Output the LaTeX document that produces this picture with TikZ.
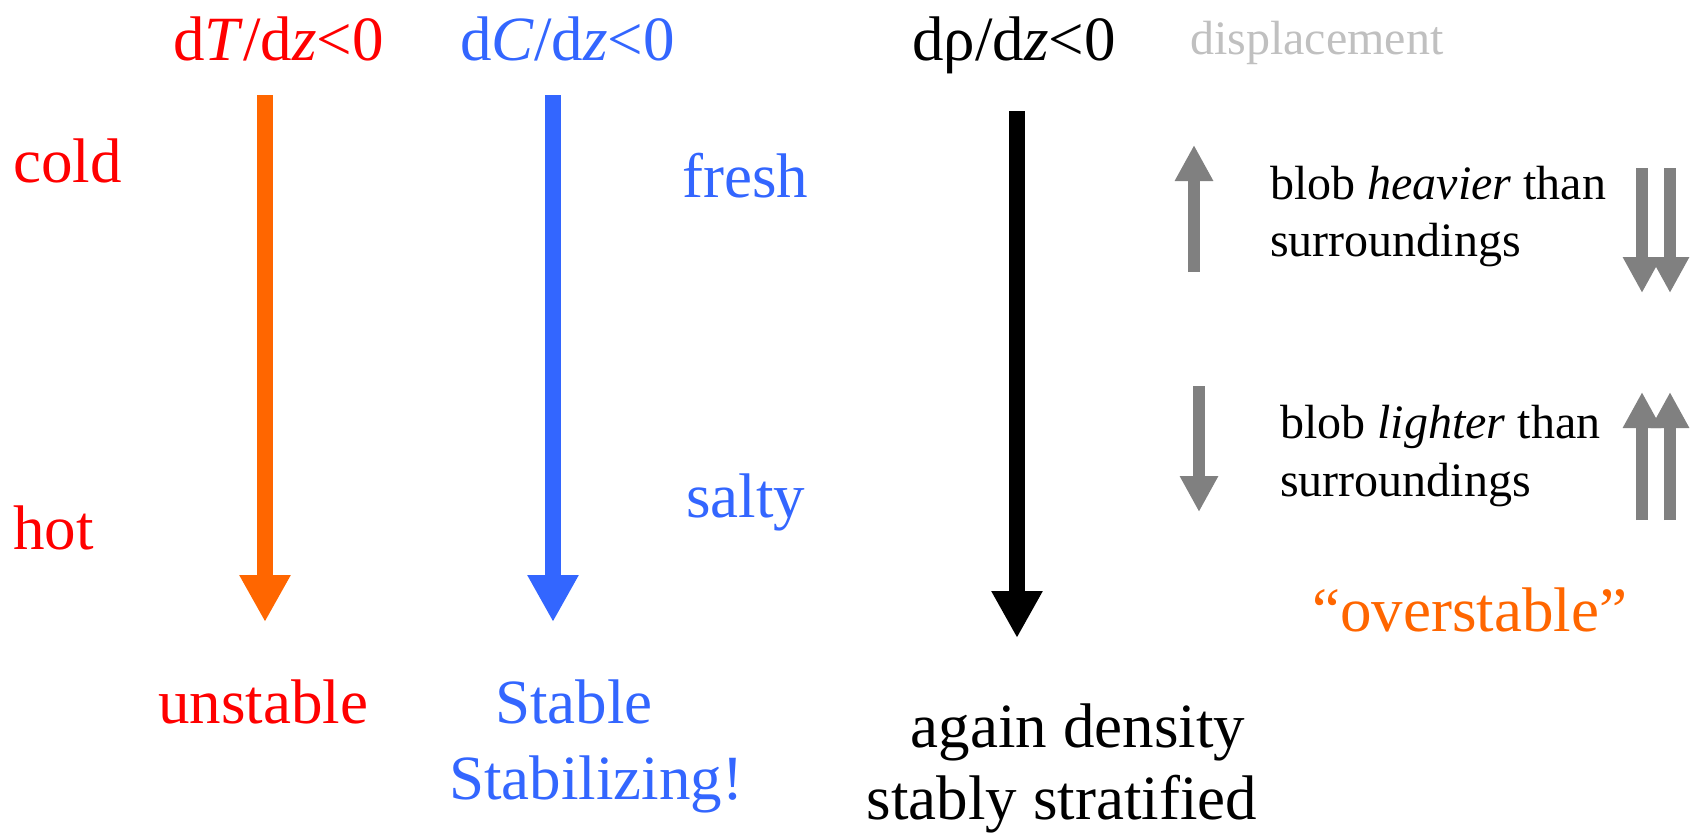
\documentclass[tikz,border=0pt]{standalone}
\usepackage{fontspec}
\setmainfont{Liberation Serif}
\usetikzlibrary{arrows.meta}
\definecolor{hotred}{HTML}{FF0000}
\definecolor{tempor}{HTML}{FF6600}
\definecolor{saltblue}{HTML}{3366FF}
\definecolor{blobgray}{HTML}{808080}
\definecolor{lightlabel}{HTML}{C0C0C0}
\tikzset{
  big/.style={font=\fontsize{63}{70}\selectfont, inner sep=0pt, anchor=base west},
  small/.style={font=\fontsize{48}{54}\selectfont, inner sep=0pt, anchor=base west},
  fatarrow/.style={line width=16pt, -{Triangle[width=48pt,length=47pt]}},
  thinarrow/.style={line width=12pt, draw=blobgray, -{Triangle[width=36pt,length=36pt]}},
}
\begin{document}
\begin{tikzpicture}[x=1pt,y=-1pt]
\useasboundingbox (0,0) rectangle (1697,833);

% column headings
\node[big, text=hotred]   (hT) at (173,60) {d\textit{T}/d\textit{z}<0};
\node[big, text=saltblue] (hC) at (460,60) {d\textit{C}/d\textit{z}<0};
\node[big]                (hR) at (912,60) {dρ/d\textit{z}<0};
\node[small, text=lightlabel] (disp) at (1190,54) {displacement};

% temperature column
\node[big, text=hotred] (cold) at (13,182) {cold};
\node[big, text=hotred] (hot)  at (13,549) {hot};
\coordinate (Ttop) at (265,95);
\coordinate (Tbot) at (265,622);
\draw[fatarrow, draw=tempor, fill=tempor] (Ttop) -- (Tbot);
\node[big, text=hotred, anchor=base] (unst) at (263,723) {unstable};

% salinity column
\node[big, text=saltblue] (fresh) at (682,197) {fresh};
\node[big, text=saltblue] (salty) at (686,517) {salty};
\coordinate (Ctop) at (553,95);
\coordinate (Cbot) at (553,622);
\draw[fatarrow, draw=saltblue, fill=saltblue] (Ctop) -- (Cbot);
\node[big, text=saltblue, anchor=base] (stab1) at (574,723) {Stable};
\node[big, text=saltblue, anchor=base] (stab2) at (596,799) {Stabilizing!};

% density column
\coordinate (Rtop) at (1017,111);
\coordinate (Rbot) at (1017,638);
\draw[fatarrow, draw=black, fill=black] (Rtop) -- (Rbot);
\node[big, anchor=base] (ag1) at (1078,747) {again density};
\node[big, anchor=base] (ag2) at (1062,819) {stably stratified};

% blob displacements
\coordinate (u1a) at (1194,272);
\coordinate (u1b) at (1194,145);
\draw[thinarrow] (u1a) -- (u1b);
\node[small] (heavy1) at (1270,199) {blob \textit{heavier} than};
\node[small] (heavy2) at (1270,256) {surroundings};
\coordinate (dd1a) at (1642,168);
\coordinate (dd1b) at (1642,293);
\coordinate (dd2a) at (1670,168);
\coordinate (dd2b) at (1670,293);
\draw[thinarrow] (dd1a) -- (dd1b);
\draw[thinarrow] (dd2a) -- (dd2b);

\coordinate (d1a) at (1199,386);
\coordinate (d1b) at (1199,512);
\draw[thinarrow] (d1a) -- (d1b);
\node[small] (light1) at (1280,438) {blob \textit{lighter} than};
\node[small] (light2) at (1280,496) {surroundings};
\coordinate (uu1a) at (1642,520);
\coordinate (uu1b) at (1642,392);
\coordinate (uu2a) at (1670,520);
\coordinate (uu2b) at (1670,392);
\draw[thinarrow] (uu1a) -- (uu1b);
\draw[thinarrow] (uu2a) -- (uu2b);

\node[big, text=tempor] (over) at (1312,631) {“overstable”};
\end{tikzpicture}
\end{document}
